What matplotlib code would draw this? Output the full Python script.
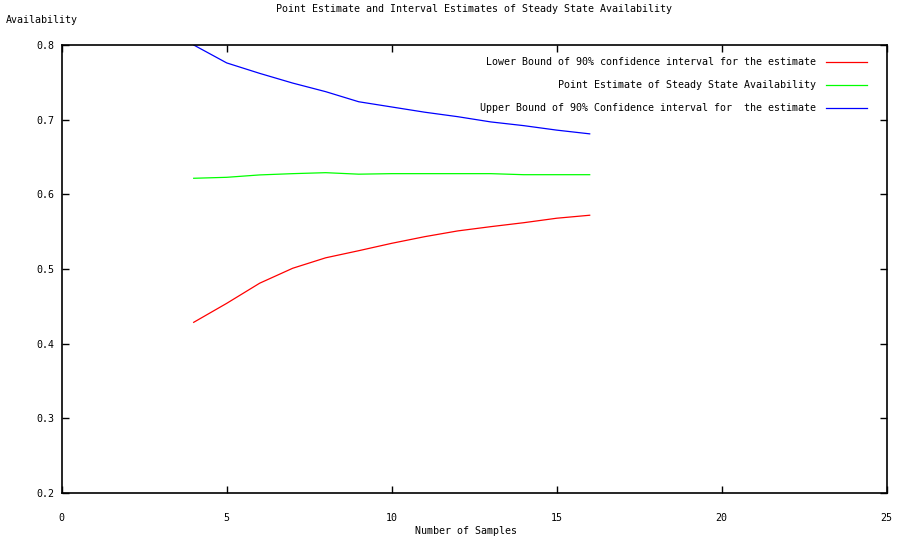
import matplotlib
matplotlib.use("Agg")
import matplotlib.pyplot as plt

samples = [4, 5, 6, 7, 8, 9, 10, 11, 12, 13, 14, 15, 16]
lower = [0.4286, 0.454, 0.481, 0.501, 0.515, 0.5245, 0.5344, 0.5433, 0.551, 0.5567, 0.562, 0.568, 0.572]
point = [0.6215, 0.6228, 0.626, 0.6277, 0.629, 0.627, 0.6277, 0.6277, 0.6277, 0.6277, 0.6263, 0.6263, 0.6263]
upper = [0.800, 0.776, 0.762, 0.749, 0.7375, 0.724, 0.717, 0.710, 0.704, 0.697, 0.692, 0.686, 0.681]

labels = ["Lower Bound of 90% confidence interval for the estimate",
          "Point Estimate of Steady State Availability",
          "Upper Bound of 90% Confidence interval for  the estimate"]
xticks = [0, 5, 10, 15, 20, 25]
yticks = [0.2, 0.3, 0.4, 0.5, 0.6, 0.7, 0.8]

plt.rcParams['font.family'] = 'DejaVu Sans Mono'
FS = 7.2

fig = plt.figure(figsize=(9.01, 5.42), dpi=100)
ax = fig.add_axes([61.7/901, 49/542, 825/901, 448/542])

ax.plot(samples, lower, color='#ff0000', lw=0.9, label=labels[0])
ax.plot(samples, point, color='#00ff00', lw=0.9, label=labels[1])
ax.plot(samples, upper, color='#0000ff', lw=0.9, label=labels[2])

ax.set_xlim(0, 25)
ax.set_ylim(0.2, 0.8)
ax.set_xticks(xticks)
ax.set_xticklabels([str(t) for t in xticks])
ax.set_yticks(yticks)
ax.set_yticklabels([f"{t:.1f}" for t in yticks])
ax.tick_params(direction='in', top=True, right=True, length=5, width=1, labelsize=FS)
ax.tick_params(axis='x', pad=14.5)
ax.tick_params(axis='y', pad=5.5)
for s in ax.spines.values():
    s.set_linewidth(1.2)

fig.text(474/901, 1 - 9/542, "Point Estimate and Interval Estimates of Steady State Availability",
         ha='center', va='center', fontsize=FS)
fig.text(6/901, 1 - 20/542, "Availability", ha='left', va='center', fontsize=FS)
fig.text(466/901, 1 - 531/542, "Number of Samples", ha='center', va='center', fontsize=FS)

leg = ax.legend(loc='upper right', markerfirst=False, frameon=False, fontsize=FS,
                handlelength=4.1, handletextpad=1.0, labelspacing=1.3,
                borderaxespad=0.3, bbox_to_anchor=(1 - 13/825, 1 - 5/448))
for t in leg.get_texts():
    t.set_ha('right')
leg._legend_box.align = "right"

fig.savefig("out.png", dpi=100)
